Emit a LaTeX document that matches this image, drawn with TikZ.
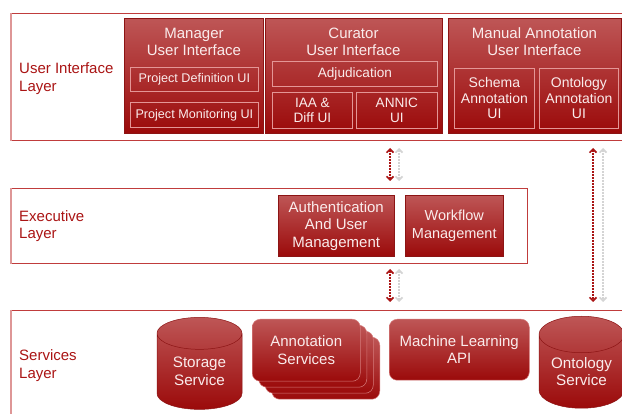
\documentclass[tikz,border=0pt]{standalone}
\usepackage{fontspec}
\setmainfont{Liberation Sans}
\usetikzlibrary{shapes.geometric,arrows.meta}
\definecolor{boxtop}{RGB}{190,86,86}
\definecolor{boxbot}{RGB}{155,10,10}
\definecolor{boxline}{RGB}{140,20,20}
\definecolor{layerred}{RGB}{192,60,60}
\definecolor{layerpink}{RGB}{222,150,150}
\definecolor{labelred}{RGB}{170,20,20}
\definecolor{boxtext}{RGB}{250,236,236}
\definecolor{subline}{RGB}{228,150,150}
\definecolor{arrgray}{RGB}{212,212,212}
\definecolor{arrred}{RGB}{170,20,20}
\begin{document}
\begin{tikzpicture}[x=1pt,y=-1pt,
  layer/.style={draw=layerred, line width=1.1pt, inner sep=0, anchor=north west},
  layertext/.style={text=labelred, font=\fontsize{15}{17.5}\selectfont, align=left, anchor=west, inner sep=0},
  redbox/.style={top color=boxtop, bottom color=boxbot, draw=boxline, line width=0.5pt, inner sep=0, anchor=north west},
  stackbox/.style={redbox, rounded corners=8pt, draw=subline!80!boxbot},
  subbox/.style={draw=subline, line width=0.8pt, inner sep=0, anchor=north west, text=boxtext, align=center},
  boxtitle/.style={text=boxtext, font=\fontsize{15}{17}\selectfont, align=center, inner sep=0},
  bigtext/.style={text=boxtext, font=\fontsize{15}{17.5}\selectfont, align=center},
  cyl/.style={cylinder, shape border rotate=90, aspect=0.6, top color=boxtop, bottom color=boxbot, draw=boxline, line width=0.5pt, inner sep=0, text=boxtext, font=\fontsize{15.2}{17.5}\selectfont, align=center},
  redarrow/.style={draw=arrred, line width=1.6pt, dash pattern=on 1.6pt off 1.4pt, {Straight Barb[length=3.5pt,width=7pt]}-{Straight Barb[length=3.5pt,width=7pt]}},
  grayarrow/.style={redarrow, draw=arrgray}
]
\useasboundingbox (0,0) rectangle (622,414);
\fill[white] (0,0) rectangle (622,414);

% layers
\node[layer, minimum width=629pt, minimum height=127pt] (uil) at (11,13) {};
\draw[layerpink, line width=1.1pt] (uil.north west) -- (uil.south west);
\node[layer, minimum width=516pt, minimum height=75pt] (exl) at (11,188) {};
\draw[layerpink, line width=1.1pt] (exl.north west) -- (exl.south west);
\node[layer, minimum width=629pt, minimum height=130pt] (svl) at (11,310) {};
\draw[layerpink, line width=1.1pt] (svl.north west) -- (svl.south west);

\node[layertext] (uilT) at (19,78.5) {User Interface\\Layer};
\node[layertext] (exlT) at (19,226) {Executive\\Layer};
\node[layertext] (svlT) at (19,365.5) {Services\\Layer};

% Manager UI
\node[redbox, minimum width=139pt, minimum height=115pt] (mgr) at (124,18) {};
\node[boxtitle] (mgrT) at (194,41.5) {Manager\\User Interface};
\node[subbox, minimum width=128pt, minimum height=24pt, font=\fontsize{12.6}{14}\selectfont] (pdui) at (130,67) {Project Definition UI};
\node[subbox, minimum width=128pt, minimum height=25pt, font=\fontsize{12.6}{14}\selectfont] (pmui) at (130,102.5) {Project Monitoring UI};

% Curator UI
\node[redbox, minimum width=177pt, minimum height=115pt] (cur) at (265,18) {};
\node[boxtitle] (curT) at (353.5,42) {Curator\\User Interface};
\node[subbox, minimum width=165pt, minimum height=25pt, font=\fontsize{13.6}{15.5}\selectfont] (adj) at (272,61) {Adjudication};
\node[subbox, minimum width=80pt, minimum height=36pt, font=\fontsize{13.6}{15.5}\selectfont] (iaa) at (272,92) {IAA \&\\Diff UI};
\node[subbox, minimum width=81pt, minimum height=36pt, font=\fontsize{13.6}{15.5}\selectfont] (annic) at (356,92) {ANNIC\\UI};

% Manual Annotation UI
\node[redbox, minimum width=173pt, minimum height=115pt] (man) at (448,18) {};
\node[boxtitle] (manT) at (534.5,42) {Manual Annotation\\User Interface};
\node[subbox, minimum width=80pt, minimum height=60pt, font=\fontsize{14}{15.5}\selectfont] (sch) at (454,68) {Schema\\Annotation\\UI};
\node[subbox, minimum width=79pt, minimum height=60pt, font=\fontsize{14}{15.5}\selectfont] (ont) at (539,68) {Ontology\\Annotation\\UI};

% Executive
\node[redbox, minimum width=116pt, minimum height=61pt, bigtext] (auth) at (278,195) {Authentication\\And User\\Management};
\node[redbox, minimum width=98pt, minimum height=61pt, bigtext, font=\fontsize{14.5}{17.3}\selectfont] (wf) at (405,195) {Workflow\\Management};

% Services
\node[cyl, minimum width=85pt, minimum height=92pt] (stor) at (199.5,371.5) {Storage\\Service};
\node[stackbox, minimum width=108pt, minimum height=62pt] (as3) at (271.5,337) {};
\node[stackbox, minimum width=108pt, minimum height=62pt] (as2) at (265,331) {};
\node[stackbox, minimum width=108pt, minimum height=62pt] (as1) at (258.5,325) {};
\node[stackbox, minimum width=108pt, minimum height=62pt, bigtext] (as) at (252,319) {Annotation\\Services};
\node[stackbox, minimum width=140pt, minimum height=61pt, bigtext] (ml) at (389,319) {Machine Learning\\API};
\node[cyl, minimum width=85pt, minimum height=92pt] (onts) at (581.5,371.5) {Ontology\\Service};

% arrows
\coordinate (r1t) at (390,148); \coordinate (r1b) at (390,181);
\coordinate (g1t) at (399,148); \coordinate (g1b) at (399,181);
\coordinate (r2t) at (390,269); \coordinate (r2b) at (390,302);
\coordinate (g2t) at (399,269); \coordinate (g2b) at (399,302);
\coordinate (r3t) at (593,148); \coordinate (r3b) at (593,302);
\coordinate (g3t) at (603,148); \coordinate (g3b) at (603,302);
\draw[grayarrow] (g1t) -- (g1b);
\draw[redarrow] (r1t) -- (r1b);
\draw[grayarrow] (g2t) -- (g2b);
\draw[redarrow] (r2t) -- (r2b);
\draw[grayarrow] (g3t) -- (g3b);
\draw[redarrow] (r3t) -- (r3b);
\end{tikzpicture}
\end{document}
